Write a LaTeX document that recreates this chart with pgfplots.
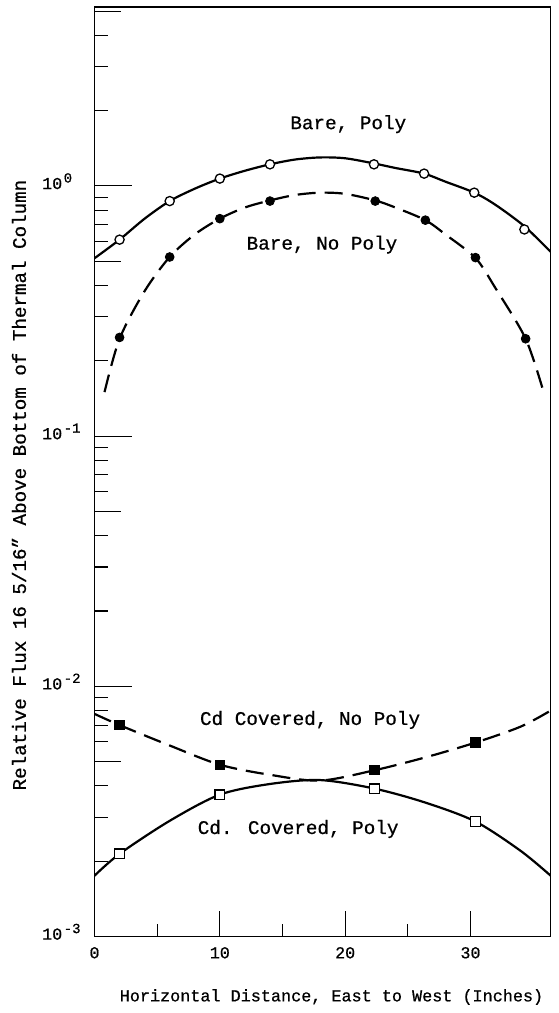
\documentclass[border=0pt]{standalone}
\usepackage{pgfplots}
\pgfplotsset{compat=1.18}
\usepackage{fontspec}
\setmainfont{Liberation Mono}[FakeBold=0.7]

% decade label: base 10 with a raised exponent
\newcommand{\decade}[1]{{\fontsize{16.7}{20}\selectfont 10\kern1.5pt\raisebox{6.5pt}{\fontsize{14}{14}\selectfont #1}}}

% measured flux profiles (markers) and the smooth curves drawn through them
\pgfplotstableread{
x y
2    0.61
6    0.87
10   1.07
14   1.22
22.3 1.22
26.3 1.12
30.3 0.94
34.3 0.67
}\barepoly
\pgfplotstableread{
x y
2    0.248
6    0.52
10   0.74
14   0.87
22.4 0.87
26.4 0.73
30.4 0.517
34.4 0.245
}\barenopoly
\pgfplotstableread{
x y
2     0.00701
10    0.00486
22.35 0.00464
30.4  0.00596
}\cdnopoly
\pgfplotstableread{
x y
2     0.00214
10    0.00369
22.35 0.00389
30.4  0.00288
}\cdpoly

\begin{document}
\begin{tikzpicture}
\useasboundingbox (-94.5pt,-76.5pt) rectangle (464.5pt,936.5pt);
\begin{axis}[
  scale only axis, width=456.2pt, height=929.5pt,
  ymode=log, xmin=0, xmax=36.4, ymin=1e-3, ymax=5.19,
  axis line style={line width=1.3pt},
  every tick/.style={black, line width=1.1pt},
  tick align=inside, xtick pos=left, ytick pos=left,
  major tick length=26pt, minor tick length=13pt,
  xtick={0,10,20,30},
  xticklabels={{\fontsize{16.7}{20}\selectfont 0},{\fontsize{16.7}{20}\selectfont 10},{\fontsize{16.7}{20}\selectfont 20},{\fontsize{16.7}{20}\selectfont 30}},
  minor xtick={5,15,25},
  ytick={0.005,0.05,0.5,5}, yticklabels={},
  minor ytick={0.002,0.003,0.004,0.006,0.007,0.008,0.009,
               0.02,0.03,0.04,0.06,0.07,0.08,0.09,
               0.2,0.3,0.4,0.6,0.7,0.8,0.9,2,3,4},
  extra y ticks={0.001,0.01,0.1,1},
  extra y tick labels={\decade{-3},\decade{-2},\decade{-1},\decade{0}},
  extra y tick style={major tick length=37pt},
  yticklabel style={anchor=base west, inner sep=0pt, xshift=-52.5pt, yshift=-3.1pt},
  xticklabel style={anchor=base, inner sep=0pt, yshift=-21.8pt},
  xlabel={Horizontal Distance, East to West (Inches)},
  xlabel style={font=\fontsize{16.8}{20}\selectfont, at={(axis description cs:0.5195,0)}, anchor=center, yshift=-60.5pt},
  ylabel={Relative Flux 16 5/16" Above Bottom of Thermal Column},
  ylabel style={font=\fontsize{19.2}{22}\selectfont, at={(axis description cs:0,0.4857)}, anchor=center, yshift=75.5pt},
  every axis plot/.append style={line width=2.2pt},
]
% Bare, Poly
\addplot[black, smooth] coordinates {
  (0,0.514) (2,0.61) (4,0.74) (6,0.87) (8,0.975) (10,1.07) (12,1.15) (14,1.22)
  (16,1.275) (18,1.30) (20,1.29) (22.3,1.23) (24,1.18) (26.3,1.12) (28,1.04)
  (30.3,0.94) (32,0.84) (34.3,0.69) (36.4,0.545)};
\addplot[only marks, mark=*, mark size=4.6pt, mark options={fill=white, draw=black, line width=1.3pt}] table {\barepoly};
% Bare, No Poly
\addplot[black, smooth, dash pattern=on 18pt off 9pt] coordinates {
  (0.8,0.15) (2,0.245) (4,0.38) (6,0.52) (8,0.64) (10,0.74) (12,0.82) (14,0.875)
  (16,0.92) (18,0.94) (20,0.93) (22.4,0.875) (24,0.82) (26.4,0.73) (28,0.64)
  (30.4,0.515) (32,0.39) (34.4,0.245) (35.8,0.152)};
\addplot[only marks, mark=*, mark size=4.4pt, mark options={fill=black, draw=black, line width=0.8pt}] table {\barenopoly};
% Cd covered, no poly
\addplot[black, smooth, dash pattern=on 18pt off 9pt] coordinates {
  (0,0.00776) (2,0.0070) (6,0.0058) (10,0.00486) (14,0.00443) (18,0.0042)
  (22.35,0.00462) (26.4,0.0052) (30.4,0.00596) (34,0.0069) (36.4,0.0080)};
\addplot[only marks, mark=square*, mark size=4.8pt, mark options={fill=black, draw=black, line width=0.8pt}] table {\cdnopoly};
% Cd covered, poly
\addplot[black, smooth] coordinates {
  (0,0.00175) (2,0.00214) (6,0.0029) (10,0.00369) (14,0.00407) (18,0.00422)
  (22.35,0.0039) (26.4,0.00343) (30.4,0.00288) (34,0.0022) (36.4,0.00175)};
\addplot[only marks, mark=square*, mark size=4.8pt, mark options={fill=white, draw=black, line width=1.3pt}] table {\cdpoly};

\begin{scope}[every node/.style={font=\fontsize{19.3}{22}\selectfont, anchor=center}]
\node at (axis cs:20.25,1.766) {Bare, Poly};
\node at (axis cs:18.15,0.583) {Bare, No Poly};
\node at (axis cs:17.2,0.00734) {Cd Covered, No Poly};
\node at (axis cs:16.25,0.00269) {Cd. Covered, Poly};
\end{scope}
\end{axis}
\end{tikzpicture}
\end{document}
